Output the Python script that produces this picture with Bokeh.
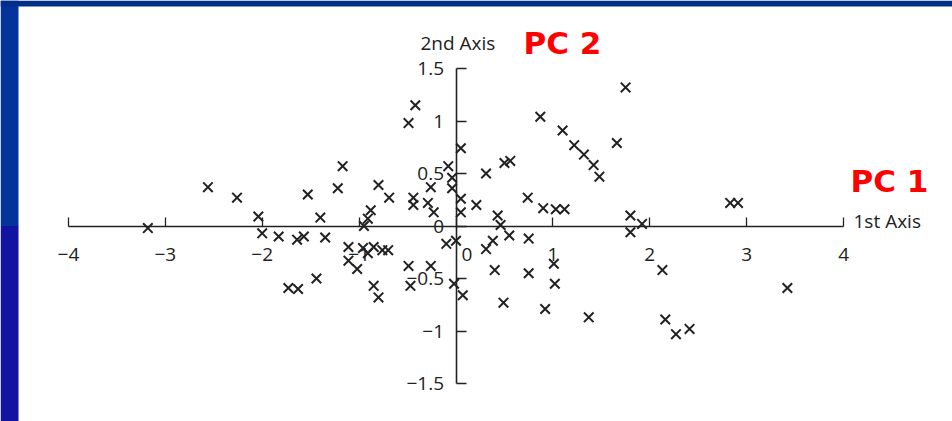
from bokeh.plotting import figure
from bokeh.models import Range1d, LinearAxis, FixedTicker, Label, BoxAnnotation
from bokeh.embed import file_html
from bokeh.resources import INLINE

# ---- data ----
pc1 = [-3.18, -2.56, -2.26, -2.04, -2.00, -1.83, -1.64, -1.57, -1.53, -1.40,
       -1.35, -1.22, -1.17, -1.44, -1.73, -1.63, -0.80, -0.69, -0.44, -0.44,
       -0.29, -0.23, -0.26, -0.08, -0.04, -0.04, 0.05, 0.05, 0.05, -0.88,
       -0.91, -0.95, -1.11, -0.96, -0.91, -0.85, -0.76, -0.70, -1.11, -1.02,
       -0.49, -0.26, -0.10, 0.00, -0.85, -0.80, -0.47, -0.02, 0.07, 0.21,
       0.31, 0.50, 0.56, 0.87, 1.10, 1.22, 1.32, 1.42, 1.48, 1.66,
       1.75, 0.74, 0.90, 1.03, 1.12, 0.43, 0.46, 0.55, 0.75, 0.38,
       0.31, 0.40, 0.75, 1.01, 1.02, 0.49, 0.92, 1.37, 1.80, 1.80,
       1.92, 2.83, 2.91, 2.13, 3.42, 2.16, 2.27, 2.41, -0.42, -0.49]
pc2 = [-0.02, 0.37, 0.27, 0.09, -0.07, -0.10, -0.13, -0.10, 0.30, 0.08,
       -0.11, 0.36, 0.57, -0.50, -0.59, -0.60, 0.39, 0.27, 0.27, 0.20,
       0.22, 0.13, 0.37, 0.57, 0.46, 0.36, 0.74, 0.26, 0.13, 0.15,
       0.07, 0.00, -0.20, -0.21, -0.26, -0.20, -0.23, -0.23, -0.33, -0.41,
       -0.38, -0.38, -0.17, -0.14, -0.57, -0.68, -0.57, -0.55, -0.66, 0.20,
       0.50, 0.60, 0.62, 1.04, 0.91, 0.77, 0.68, 0.58, 0.47, 0.79,
       1.32, 0.27, 0.17, 0.16, 0.16, 0.10, 0.01, -0.09, -0.12, -0.14,
       -0.22, -0.42, -0.45, -0.36, -0.55, -0.73, -0.79, -0.87, 0.10, -0.06,
       0.02, 0.22, 0.22, -0.42, -0.59, -0.89, -1.03, -0.98, 1.15, 0.98]

x_ticks = [-4, -3, -2, -1, 0, 1, 2, 3, 4]
x_tick_labels = ["\u22124", "\u22123", "\u22122", "\u22121", "\u2007\u20070",
                 "1", "2", "3", "4"]
y_ticks = [-1.5, -1, -0.5, 0, 0.5, 1, 1.5]
y_tick_labels = ["\u22121.5", "\u22121", "\u22120.5", "0", "0.5", "1", "1.5"]

x_axis_title = "1st Axis"
y_axis_title = "2nd Axis"
pc1_title = "PC 1"
pc2_title = "PC 2"

# ---- layout constants (pixels) ----
W, H = 952, 421
X0_PX, Y0_PX = 455.5, 225.5        # pixel position of data origin
PX_X, PX_Y = 96.9, 105.0           # pixels per data unit
x_start, x_end = -X0_PX / PX_X, (W - X0_PX) / PX_X
y_end, y_start = Y0_PX / PX_Y, -(H - Y0_PX) / PX_Y

FONT = "Open Sans"
FS = "19px"
INK = "#222222"

p = figure(width=W, height=H, output_backend="svg", toolbar_location=None,
           x_range=Range1d(x_start, x_end), y_range=Range1d(y_start, y_end),
           x_axis_type=None, y_axis_type=None,
           min_border=0, min_border_left=0, min_border_right=0,
           min_border_top=0, min_border_bottom=0)
p.styles = {"position": "absolute", "left": "0px", "top": "0px"}
p.outline_line_color = None
p.background_fill_color = "white"
p.border_fill_color = "white"
p.xgrid.visible = False
p.ygrid.visible = False

# slide decoration (blue frame strips)
strip_x = x_start + 18 / PX_X
top_y = y_end - 6 / PX_Y
p.add_layout(BoxAnnotation(right=strip_x, bottom=0, fill_color="#04349b",
                           fill_alpha=1, line_color=None, level="underlay"))
p.add_layout(BoxAnnotation(right=strip_x, top=0, fill_color="#1313a2",
                           fill_alpha=1, line_color=None, level="underlay"))
p.add_layout(BoxAnnotation(bottom=top_y, fill_color="#002e88",
                           fill_alpha=1, line_color=None, level="underlay"))

# axes crossing at origin
xaxis = LinearAxis(fixed_location=0, bounds=(x_ticks[0], x_ticks[-1]),
                   ticker=FixedTicker(ticks=x_ticks),
                   major_label_overrides=dict(zip(x_ticks, x_tick_labels)))
xaxis.axis_line_color = INK
xaxis.axis_line_width = 1.6
xaxis.major_tick_line_color = INK
xaxis.major_tick_line_width = 1.3
xaxis.major_tick_in = 9
xaxis.major_tick_out = 0
xaxis.minor_tick_line_color = None
xaxis.major_label_standoff = 15
xaxis.major_label_text_font = FONT
xaxis.major_label_text_font_size = FS
xaxis.major_label_text_color = INK
p.add_layout(xaxis, "below")

yaxis = LinearAxis(fixed_location=0, bounds=(y_ticks[0], y_ticks[-1]),
                   ticker=FixedTicker(ticks=y_ticks),
                   major_label_overrides=dict(zip(y_ticks, y_tick_labels)))
yaxis.axis_line_color = INK
yaxis.axis_line_width = 1.6
yaxis.major_tick_line_color = INK
yaxis.major_tick_line_width = 1.3
yaxis.major_tick_in = 10
yaxis.major_tick_out = 0
yaxis.minor_tick_line_color = None
yaxis.major_label_standoff = 12
yaxis.major_label_text_font = FONT
yaxis.major_label_text_font_size = FS
yaxis.major_label_text_color = INK
p.add_layout(yaxis, "left")

# points
p.scatter(pc1, pc2, marker="x", size=13.5, line_width=2, line_color=INK)

# titles
p.add_layout(Label(x=0.02, y=(Y0_PX - 42) / PX_Y, text=y_axis_title,
                   text_align="center", text_baseline="middle",
                   text_font=FONT, text_font_size=FS, text_color=INK))
p.add_layout(Label(x=(853 - X0_PX) / PX_X, y=(Y0_PX - 220.5) / PX_Y, text=x_axis_title,
                   text_align="left", text_baseline="middle",
                   text_font=FONT, text_font_size=FS, text_color=INK))
p.add_layout(Label(x=(523 - X0_PX) / PX_X, y=(Y0_PX - 42.5) / PX_Y, text=pc2_title,
                   text_align="left", text_baseline="middle",
                   text_font="DejaVu Sans", text_font_style="bold",
                   text_font_size="31px", text_color="#ff0000"))
p.add_layout(Label(x=(850 - X0_PX) / PX_X, y=(Y0_PX - 180) / PX_Y, text=pc1_title,
                   text_align="left", text_baseline="middle",
                   text_font="DejaVu Sans", text_font_style="bold",
                   text_font_size="31px", text_color="#ff0000"))

open("out.html", "w").write(file_html(p, INLINE))
